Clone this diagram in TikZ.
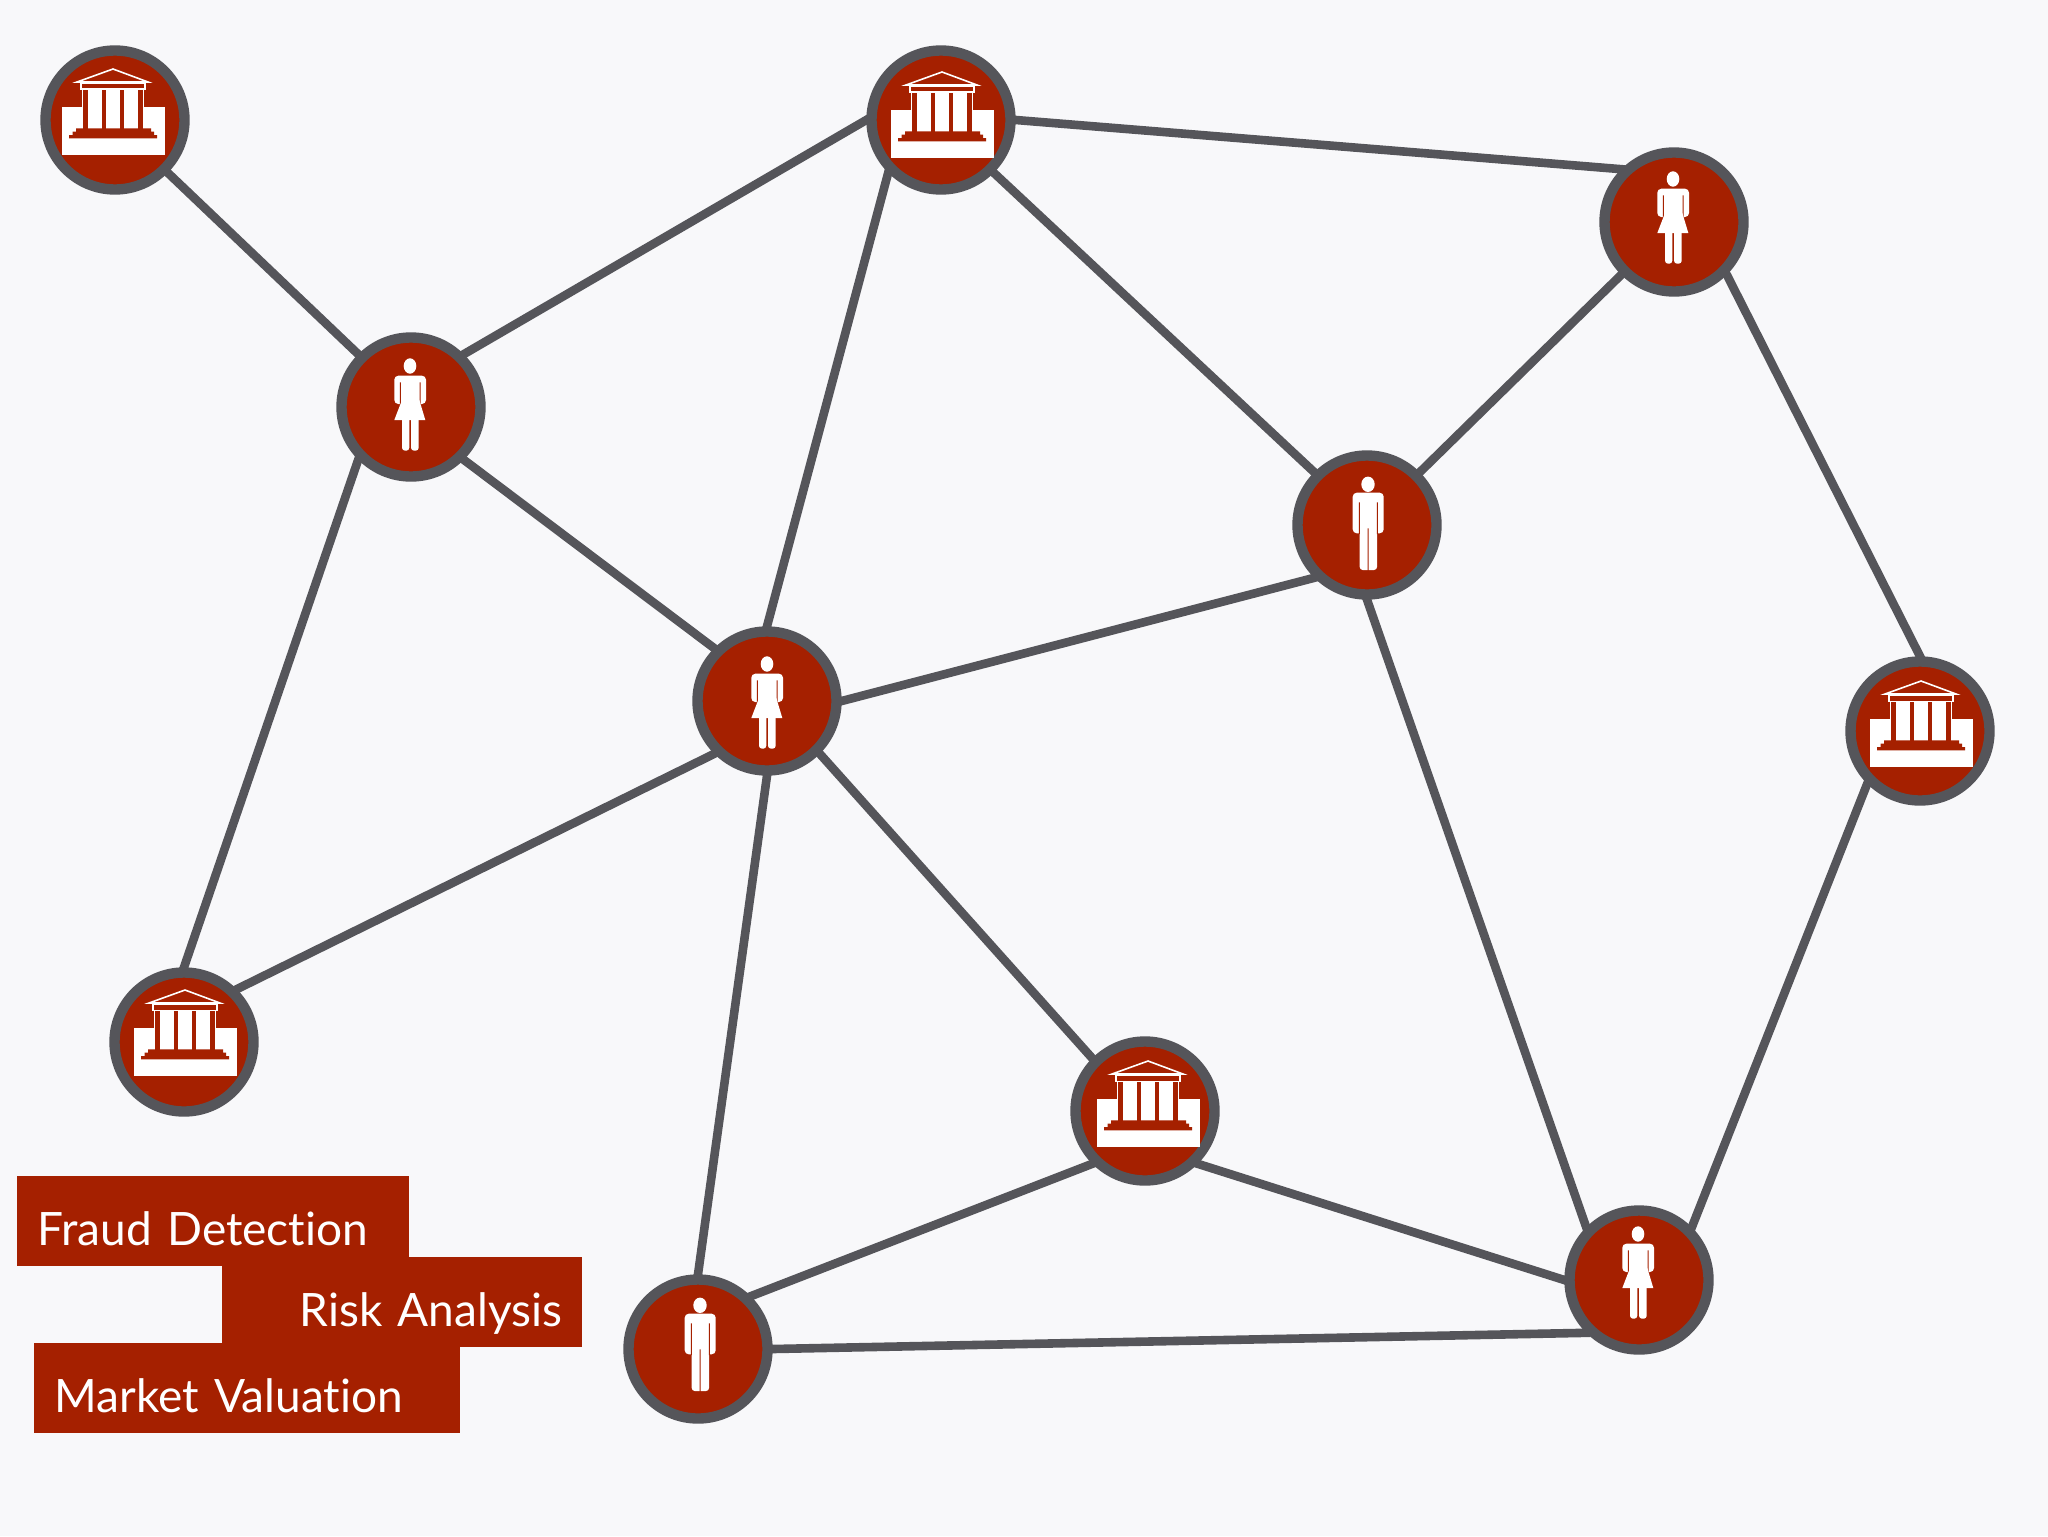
\documentclass[tikz,border=0pt]{standalone}
\usepackage{fontspec}
\setmainfont[Ligatures=NoCommon]{Lato}
\newcommand\tagfont{\fontsize{23}{30}\selectfont\spaceskip=.13em\relax}
\definecolor{hubred}{HTML}{A52000}
\definecolor{ringgrey}{HTML}{55555A}
\definecolor{pagegrey}{HTML}{F8F8FA}
\tikzset{
hub/.style = {circle,draw=ringgrey,fill=hubred,line width=5.2pt,minimum size=69.5pt,inner sep=0pt},
link/.style = {draw=ringgrey,line width=4.3pt,shorten <=-2pt,shorten >=-2pt},
tag/.style = {fill=hubred,text=white,anchor=north west,inner ysep=0pt,inner xsep=10pt,
              text height=34.5pt,text depth=10.5pt,minimum height=45pt,font=\tagfont},
pics/bankicon/.style = {code={
  \fill[white] (-53,-13) rectangle (50,35);
  \fill[white] (-33,-31) rectangle (29,-13);
  \foreach \c in {-31.7,-13.3,5,23.3}
    \fill[hubred] (\c,-31) rectangle ++(4.4,39.5);
  \fill[hubred] (-39,8.3) rectangle (36,12) (-42.5,11.7) rectangle (39,15.3) (-46,15) rectangle (42,18.3);
  \draw[white,line width=.8pt] (-34,-36.7) rectangle (30,-30.7);
  \draw[white,line width=.8pt] (-38,-38) -- (-2,-51) -- (33,-38) -- cycle;
}},
pics/manicon/.style = {code={
  \fill[white] (1,-40.7) ellipse [x radius=6.7,y radius=7.7];
  \fill[white,rounded corners=2pt] (-14.3,-32.3) rectangle (16.7,8.3);
  \fill[white,rounded corners=1.5pt] (-7.3,0) rectangle (10,45);
  \fill[hubred] (-8.2,-22.7) rectangle (-7.2,9) (9.9,-22.7) rectangle (10.9,9) (.5,3.3) rectangle (1.5,46);
}},
pics/womanicon/.style = {code={
  \fill[white] (-1,-42) ellipse [x radius=6.3,y radius=7.7];
  \fill[white,rounded corners=2pt] (-16.7,-32.3) rectangle (15,-4);
  \fill[hubred] (-11.2,-25.7) rectangle (-10.2,-3) (8.6,-25.7) rectangle (9.6,-3);
  \fill[white] (-9,-8) -- (8.3,-8) -- (14.3,12) -- (-16.7,12) -- cycle;
  \fill[white,rounded corners=1.5pt] (-9,6) rectangle (-1.7,42.7) (0,6) rectangle (7.7,42.7);
}},
}
\begin{document}
\begin{tikzpicture}[x=.5pt,y=-.5pt]
\fill[pagegrey] (0,0) rectangle (2048,1536);
\useasboundingbox (0,0) rectangle (2048,1536);

% legend
\node (fraud) [tag,text width=176pt,align=left] at (17,1176) {Fraud Detection};
\node (risk) [tag,text width=160pt,align=right] at (222,1257) {Risk Analysis};
\node (market) [tag,text width=193pt,align=left] at (34,1343) {Market Valuation};

%
\foreach \nm/\x/\y/\kind/\dx/\dy in {bankA/115/120/bankicon/0/0, bankB/941/120/bankicon/3/3, bankC/1920/731/bankicon/3/1,
  bankD/184/1042/bankicon/3/-1, bankE/1145/1111/bankicon/5/1, womanA/1674/222/womanicon/0/-1, womanB/411/407/womanicon/0/1,
  womanC/767/701/womanicon/1/5, womanD/1639/1280/womanicon/0/-4, manA/1367/525/manicon/0/0, manB/698/1349/manicon/1/-3}
{
\node (\nm) [hub] at (\x,\y) {};
\pic at ([shift={(\dx,\dy)}]\nm) {\kind};
}

%
\foreach \a/\b in {bankA.-45/womanB.135, womanB.45/bankB.180, womanB.-45/womanC.135, womanB.-135/bankD.90,
  bankB.-135/womanC.90, bankB.-45/manA.135, bankB.0/womanA.135, womanA.-135/manA.45, womanA.-45/bankC.90,
  manA.-135/womanC.0, manA.-90/womanD.135, womanC.-135/bankD.45, womanC.-45/bankE.135, womanC.-90/manB.90,
  bankE.-135/manB.45, bankE.-45/womanD.180, manB.0/womanD.-135, bankC.-135/womanD.45}
\draw[link] (\a) -- (\b);
\end{tikzpicture}
\end{document}
